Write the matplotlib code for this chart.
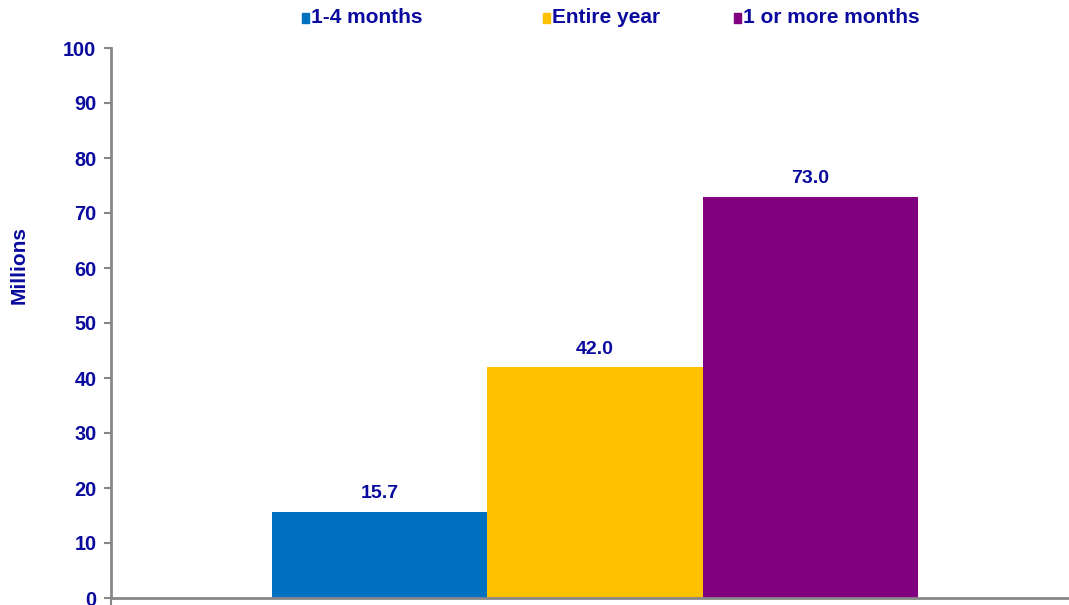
import matplotlib
matplotlib.use("Agg")
import matplotlib.pyplot as plt
from matplotlib.patches import Rectangle

series = ["1-4 months", "Entire year", "1 or more months"]
values = [15.7, 42.0, 73.0]
colors = ["#0070C0", "#FFC000", "#800080"]
yticks = [0, 10, 20, 30, 40, 50, 60, 70, 80, 90, 100]
ylabel = "Millions"

txt = "#0A0A9E"
grey = "#878787"
plt.rcParams["font.family"] = ["Liberation Sans", "DejaVu Sans"]
plt.rcParams["font.weight"] = "bold"

fig = plt.figure(figsize=(10.69, 6.05), dpi=100)
ax = fig.add_axes([111/1069, 1 - 598/605, (1068-111)/1069, (598-48)/605])

xs = [-1, 0, 1]
bars = ax.bar(xs, values, width=1.0, color=colors, label=series, zorder=2)
for x, v in zip(xs, values):
    ax.text(x, v + 1.7, f"{v:.1f}", ha="center", va="bottom", color=txt,
            fontsize=14, fontweight="bold")

ax.set_xlim(-2.248, 2.197)
ax.set_ylim(0, 100)
ax.set_yticks(yticks)
ax.set_yticklabels([str(t) for t in yticks], color=txt, fontsize=14.3, fontweight="bold")
ax.set_xticks([-2.248])
ax.set_xticklabels([""])
ax.tick_params(axis="y", direction="out", length=5, width=1.5, color=grey, pad=5.5)
ax.tick_params(axis="x", direction="out", length=6, width=1.5, color=grey)
for s in ["top", "right"]:
    ax.spines[s].set_visible(False)
for s in ["left", "bottom"]:
    ax.spines[s].set_color(grey)
    ax.spines[s].set_linewidth(2)

fig.text(19/1069, 1 - 265/605, ylabel, rotation=90, ha="center", va="center",
         color=txt, fontsize=15, fontweight="bold")

# legend
leg_x = [306, 547, 738]
for px, name, c in zip(leg_x, series, colors):
    fig.patches.append(Rectangle(((px - 4)/1069, 1 - 23/605), 7/1069, 10/605,
                                 transform=fig.transFigure, color=c))
    fig.text((px + 5)/1069, 1 - 17.5/605, name, ha="left", va="center", color=txt,
             fontsize=15, fontweight="bold")

fig.savefig("out.png", dpi=100)
